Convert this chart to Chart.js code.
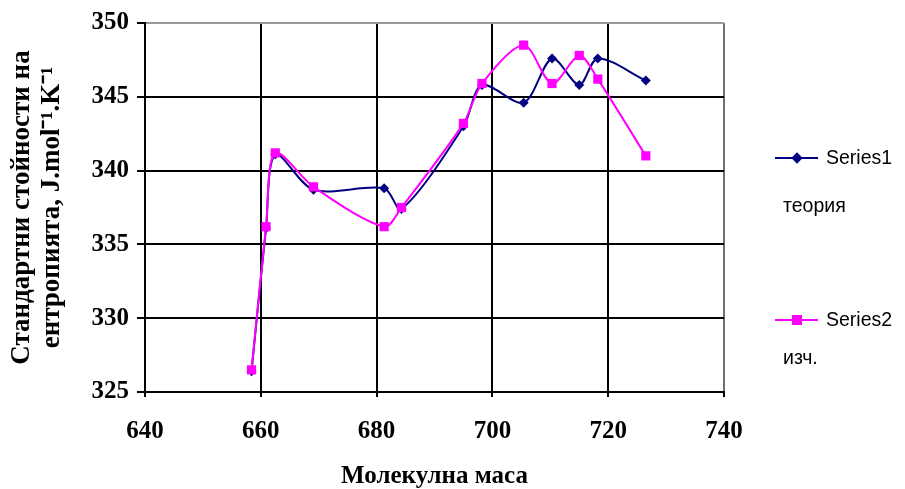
<!DOCTYPE html>
<html>
<head>
<meta charset="utf-8">
<script src="https://cdn.jsdelivr.net/npm/chart.js@4/dist/chart.umd.min.js"></script>
<style>
  html, body { margin: 0; padding: 0; background: #fff; }
  #wrap { position: relative; width: 905px; height: 489px; }
  canvas { position: absolute; left: 0; top: 0; }
  .lg { position: absolute; font-family: "Liberation Sans", Arial, sans-serif; font-size: 19.5px; color: #000; line-height: 1; white-space: nowrap; }
  .ln { position: absolute; height: 2px; }
  .mk { position: absolute; }
</style>
</head>
<body>
<div id="wrap">
  <canvas id="c" width="905" height="489"></canvas>
  <div class="ln" style="left:775px;top:157px;width:43px;background:#000080"></div>
  <div class="mk" style="left:793px;top:154px;width:8px;height:8px;background:#000080;transform:rotate(45deg)"></div>
  <div class="lg" style="left:826px;top:148px">Series1</div>
  <div class="lg" style="left:783px;top:196px">теория</div>
  <div class="ln" style="left:775px;top:319px;width:43px;background:#FF00FF"></div>
  <div class="mk" style="left:792px;top:315px;width:10px;height:10px;background:#FF00FF"></div>
  <div class="lg" style="left:826px;top:310px">Series2</div>
  <div class="lg" style="left:783px;top:348px">изч.</div>
</div>
<script>
const molMass = [658.4, 660.9, 662.5, 669.1, 681.3, 684.3, 695.0, 698.2, 705.4, 710.3, 715.0, 718.2, 726.5];
const series1 = [326.4, 336.1, 341.1, 338.7, 338.8, 337.4, 343.0, 345.8, 344.6, 347.6, 345.8, 347.6, 346.1];
const series2 = [326.5, 336.2, 341.2, 338.9, 336.2, 337.5, 343.2, 345.9, 348.5, 345.9, 347.8, 346.2, 341.0];
const seriesNames = ["Series1", "Series2"];
const xTitle = "Молекулна маса";
const yTitle = ["Стандартни стойности на", "ентропията, J.mol⁻¹.K⁻¹"];

const pts = (ys) => ys.map((y, i) => ({ x: molMass[i], y }));
const serif = '"Liberation Serif", "Times New Roman", serif';

new Chart(document.getElementById('c'), {
  type: 'line',
  data: {
    datasets: [
      {
        label: seriesNames[0], data: pts(series1), order: 1,
        borderColor: '#000080', backgroundColor: '#000080', borderWidth: 2,
        pointStyle: 'rectRot', pointRadius: 5, pointBorderWidth: 0, tension: 0.3
      },
      {
        label: seriesNames[1], data: pts(series2), order: 0,
        borderColor: '#FF00FF', backgroundColor: '#FF00FF', borderWidth: 2,
        pointStyle: 'rect', pointRadius: 6.5, pointBorderWidth: 0, tension: 0.3
      }
    ]
  },
  options: {
    responsive: false, animation: false,
    layout: { padding: { top: 21, right: 181, left: 0, bottom: 0 } },
    plugins: { legend: { display: false }, tooltip: { enabled: false } },
    scales: {
      x: {
        type: 'linear', min: 640, max: 740,
        ticks: { stepSize: 20, color: '#000', padding: 20, maxRotation: 0,
          font: { family: serif, size: 25, weight: 'bold' } },
        grid: {
          color: (ctx) => (ctx.tick && ctx.tick.value === 740 ? '#707070' : '#000'),
          lineWidth: 2, tickLength: 5, tickColor: '#000'
        },
        border: { color: '#000', width: 2 },
        title: { display: true, text: xTitle, color: '#000', padding: { top: 1, bottom: 0 },
          font: { family: serif, size: 25, weight: 'bold', lineHeight: 1 } },
        afterFit: (s) => { s.height = 97; }
      },
      y: {
        min: 325, max: 350,
        ticks: { stepSize: 5, color: '#000', padding: 8,
          font: { family: serif, size: 25, weight: 'bold' } },
        grid: {
          color: (ctx) => (ctx.tick && ctx.tick.value === 350 ? '#999' : '#000'),
          lineWidth: 2, tickLength: 8, tickColor: '#000'
        },
        border: { color: '#000', width: 2 },
        title: { display: true, text: yTitle, color: '#000', padding: { top: 7, bottom: 0 },
          font: { family: serif, size: 27, weight: 'bold', lineHeight: 1.1 } },
        afterFit: (s) => { s.width = 145; }
      }
    }
  }
});
</script>
</body>
</html>
